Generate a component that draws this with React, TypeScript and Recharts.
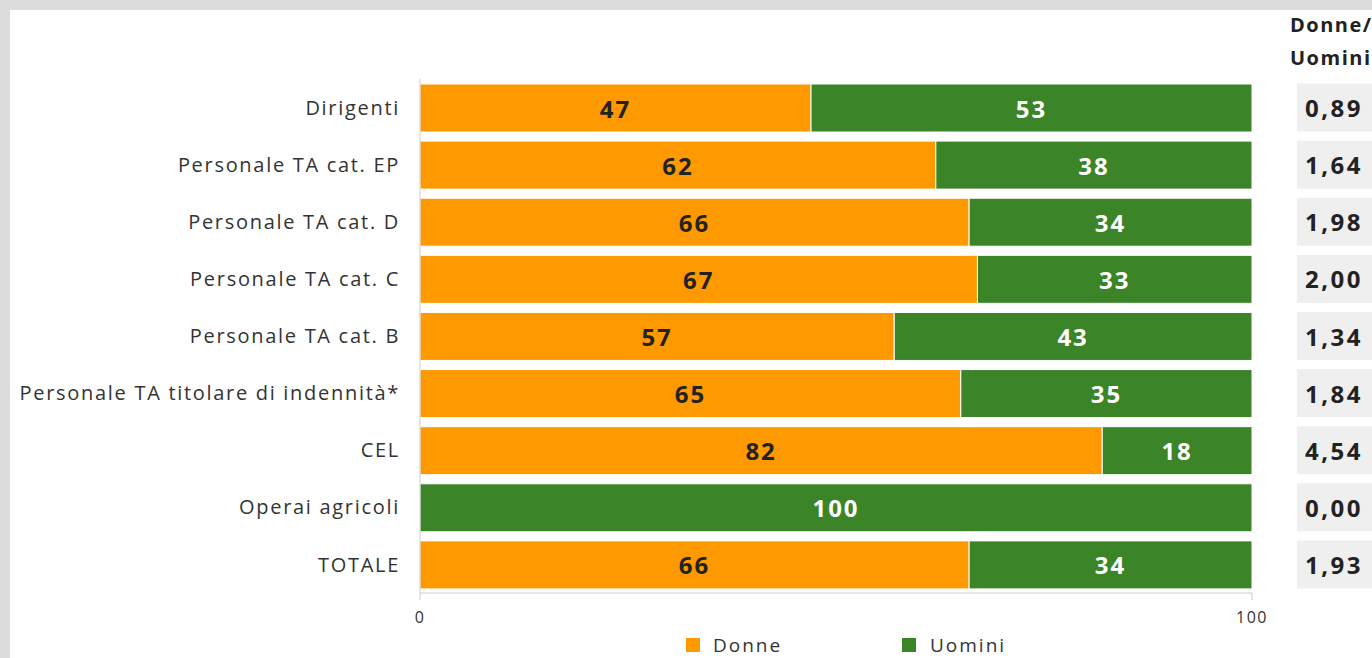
import { BarChart, Bar, XAxis, YAxis, LabelList } from 'recharts'

const categories = [
  'Dirigenti',
  'Personale TA cat. EP',
  'Personale TA cat. D',
  'Personale TA cat. C',
  'Personale TA cat. B',
  'Personale TA titolare di indennità*',
  'CEL',
  'Operai agricoli',
  'TOTALE',
]
const donne = [47, 62, 66, 67, 57, 65, 82, 0, 66]
const uomini = [53, 38, 34, 33, 43, 35, 18, 100, 34]
const ratio = ['0,89', '1,64', '1,98', '2,00', '1,34', '1,84', '4,54', '0,00', '1,93']
const xTicks = [0, 100]

const ORANGE = '#FF9900'
const GREEN = '#3B8428'
const FONT = '"Open Sans", sans-serif'

const data = categories.map((name, i) => ({ name, donne: donne[i], uomini: uomini[i], ratio: ratio[i] }))

const makeLabel = (color: string) => (props: any) => {
  const { x, y, width, height, value } = props
  if (!value) return null
  return (
    <text
      x={x + width / 2}
      y={y + height / 2}
      fill={color}
      textAnchor="middle"
      dominantBaseline="central"
      fontSize={24}
      fontWeight={700}
      letterSpacing={2}
      fontFamily={FONT}
    >
      {value}
    </text>
  )
}

const RatioTick = (props: any) => {
  const { x, y, index } = props
  return (
    <g>
      <rect x={x + 39} y={y - 24} width={120} height={48} fill="#EFEFEF" />
      <text
        x={x + 47}
        y={y}
        dominantBaseline="central"
        fontSize={24}
        fontWeight={700}
        letterSpacing={2.5}
        fill="#222"
        fontFamily={FONT}
      >
        {ratio[index]}
      </text>
    </g>
  )
}

export default function App() {
  return (
    <div style={{ position: 'absolute', left: 0, top: 0, width: 1372, height: 658, background: '#DCDCDC', overflow: 'hidden' }}>
      <div style={{ position: 'absolute', left: 10, top: 10, width: 1400, height: 700, background: '#fff' }}>
        <div
          style={{
            position: 'absolute',
            left: 1280,
            top: -2,
            fontFamily: FONT,
            fontWeight: 700,
            fontSize: 20,
            letterSpacing: 1.5,
            lineHeight: '33px',
            color: '#222',
          }}
        >
          Donne/
          <br />
          Uomini
        </div>
        <BarChart
          width={1362}
          height={648}
          data={data}
          layout="vertical"
          margin={{ top: 69, right: 0, bottom: 35, left: 0 }}
          barSize={48}
        >
          <XAxis
            type="number"
            domain={[0, 100]}
            ticks={xTicks}
            axisLine={{ stroke: '#CCCCCC' }}
            tickLine={{ stroke: '#CCCCCC' }}
            tickSize={7}
            tickMargin={12}
            tick={{ fontSize: 16, fill: '#333', fontFamily: FONT, letterSpacing: 1.5 }}
          />
          <YAxis
            type="category"
            dataKey="name"
            width={410}
            axisLine={{ stroke: '#CCCCCC' }}
            tickLine={false}
            tickMargin={14}
            tick={{ fontSize: 20, fill: '#333', fontFamily: FONT, letterSpacing: 1.7 }}
          />
          <YAxis
            yAxisId="right"
            orientation="right"
            type="category"
            dataKey="name"
            width={120}
            axisLine={false}
            tickLine={false}
            tickMargin={0}
            tick={<RatioTick />}
          />
          <Bar dataKey="donne" stackId="a" fill={ORANGE} stroke="#fff" strokeWidth={1} isAnimationActive={false}>
            <LabelList dataKey="donne" content={makeLabel('#222')} />
          </Bar>
          <Bar dataKey="uomini" stackId="a" fill={GREEN} stroke="#fff" strokeWidth={1} isAnimationActive={false}>
            <LabelList dataKey="uomini" content={makeLabel('#fff')} />
          </Bar>
        </BarChart>
        <div
          style={{
            position: 'absolute',
            left: 676,
            top: 622,
            display: 'flex',
            alignItems: 'center',
            fontFamily: FONT,
            fontSize: 19,
            letterSpacing: 2,
            color: '#333',
          }}
        >
          <span style={{ width: 14, height: 14, background: ORANGE, display: 'inline-block', marginRight: 13 }} />
          <span style={{ width: 189 }}>Donne</span>
          <span style={{ width: 14, height: 14, background: GREEN, display: 'inline-block', marginRight: 14 }} />
          <span>Uomini</span>
        </div>
      </div>
    </div>
  )
}
